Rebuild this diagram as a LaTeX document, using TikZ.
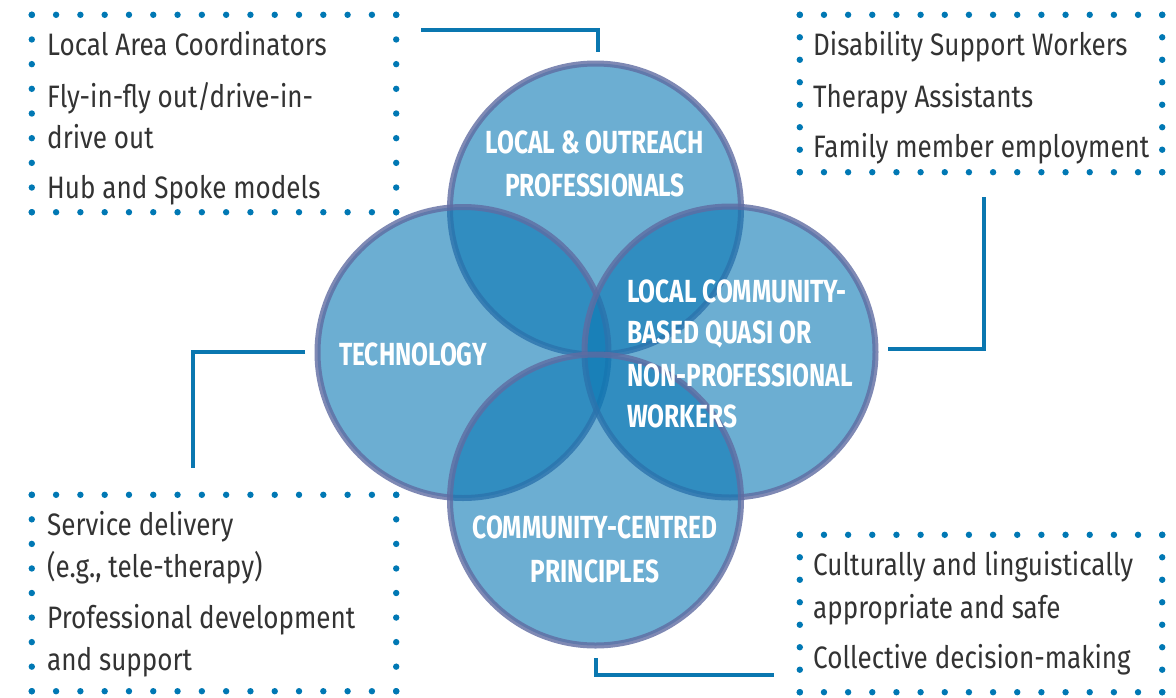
\documentclass[tikz,border=0pt]{standalone}
\usepackage{fontspec}
\setmainfont{Fira Sans}[FakeStretch=0.84]
\newfontfamily\headfont{Fira Sans}[FakeStretch=0.765]
\usetikzlibrary{calc}
\definecolor{dotblue}{RGB}{0,120,180}
\definecolor{linkblue}{RGB}{10,119,176}
\definecolor{circfill}{RGB}{10,120,180}
\definecolor{circedge}{RGB}{95,108,162}
\definecolor{txtgray}{RGB}{51,51,51}
\newcommand\dotframe[3]{%
  \foreach \i in {0,...,#2}{%
    \fill[dotblue] ($(#1.north west)!{\i/#2}!(#1.north east)$) circle (3.2);
    \fill[dotblue] ($(#1.south west)!{\i/#2}!(#1.south east)$) circle (3.2);
  }%
  \foreach \i in {0,...,#3}{%
    \fill[dotblue] ($(#1.north west)!{\i/#3}!(#1.south west)$) circle (3.2);
    \fill[dotblue] ($(#1.north east)!{\i/#3}!(#1.south east)$) circle (3.2);
  }%
}
\begin{document}
\begin{tikzpicture}[x=1pt,y=-1pt,
  circ/.style={circle, minimum size=291pt, inner sep=0pt, fill=circfill, fill opacity=0.6, draw=circedge, draw opacity=0.8, line width=6pt},
  boxtxt/.style={anchor=base west, inner sep=0pt, text=txtgray, font=\fontsize{31}{31}\selectfont},
  circtxt/.style={inner sep=0pt, text=white, font=\headfont\bfseries\fontsize{32}{32}\selectfont},
  link/.style={draw=linkblue, line width=4.5pt},
  frame/.style={rectangle, inner sep=0pt, draw=none}]
\useasboundingbox[fill=white] (0,0) rectangle (1176,697);

% frames
\node[frame, minimum width=364pt, minimum height=197pt] (box1) at (214,113.5) {};
\node[frame, minimum width=362pt, minimum height=157pt] (box2) at (981,93.5) {};
\node[frame, minimum width=364pt, minimum height=196pt] (box3) at (214,593) {};
\node[frame, minimum width=362pt, minimum height=157pt] (box4) at (981,613.5) {};
\dotframe{box1}{15}{8}
\dotframe{box2}{15}{7}
\dotframe{box3}{15}{8}
\dotframe{box4}{15}{7}

% connectors
\coordinate (l1a) at (421,30);  \coordinate (l1b) at (598,52);
\coordinate (l2a) at (984,197); \coordinate (l2b) at (888,349);
\coordinate (l3a) at (305,352); \coordinate (l3b) at (193,468);
\coordinate (l4a) at (596,658); \coordinate (l4b) at (774,675);
\draw[link] (l1a) -| (l1b);
\draw[link] (l2a) |- (l2b);
\draw[link] (l3a) -| (l3b);
\draw[link] (l4a) |- (l4b);

% circles
\node[circ] (ctop) at (595.5,209) {};
\node[circ] (cleft) at (463,352.5) {};
\node[circ] (cright) at (730,352) {};
\node[circ] (cbot) at (595.5,500) {};

% circle texts
\node[circtxt, anchor=base] (tt1) at (595,153) {LOCAL \& OUTREACH};
\node[circtxt, anchor=base] (tt2) at (595,196) {PROFESSIONALS};
\node[circtxt, anchor=base west] (tl1) at (339,365) {TECHNOLOGY};
\node[circtxt, anchor=base west] (tr1) at (627,302) {LOCAL COMMUNITY-};
\node[circtxt, anchor=base west] (tr2) at (627,343) {BASED QUASI OR};
\node[circtxt, anchor=base west] (tr3) at (627,386) {NON-PROFESSIONAL};
\node[circtxt, anchor=base west] (tr4) at (627,427) {WORKERS};
\node[circtxt, anchor=base] (tb1) at (595,538) {COMMUNITY-CENTRED};
\node[circtxt, anchor=base] (tb2) at (595,582) {PRINCIPLES};

% box texts
\node[boxtxt] (a1) at (47,55) {Local Area Coordinators};
\node[boxtxt] (a2) at (47,107) {Fly-in-fly out/drive-in-};
\node[boxtxt] (a3) at (47,148) {drive out};
\node[boxtxt] (a4) at (47,198) {Hub and Spoke models};
\node[boxtxt] (b1) at (813,55) {Disability Support Workers};
\node[boxtxt] (b2) at (813,107) {Therapy Assistants};
\node[boxtxt] (b3) at (813,157) {Family member employment};
\node[boxtxt] (c1) at (47,535) {Service delivery};
\node[boxtxt] (c2) at (47,577) {(e.g., tele-therapy)};
\node[boxtxt] (c3) at (47,628) {Professional development};
\node[boxtxt] (c4) at (47,670) {and support};
\node[boxtxt] (d1) at (813,575) {Culturally and linguistically};
\node[boxtxt] (d2) at (813,618) {appropriate and safe};
\node[boxtxt] (d3) at (813,668) {Collective decision-making};
\end{tikzpicture}
\end{document}
